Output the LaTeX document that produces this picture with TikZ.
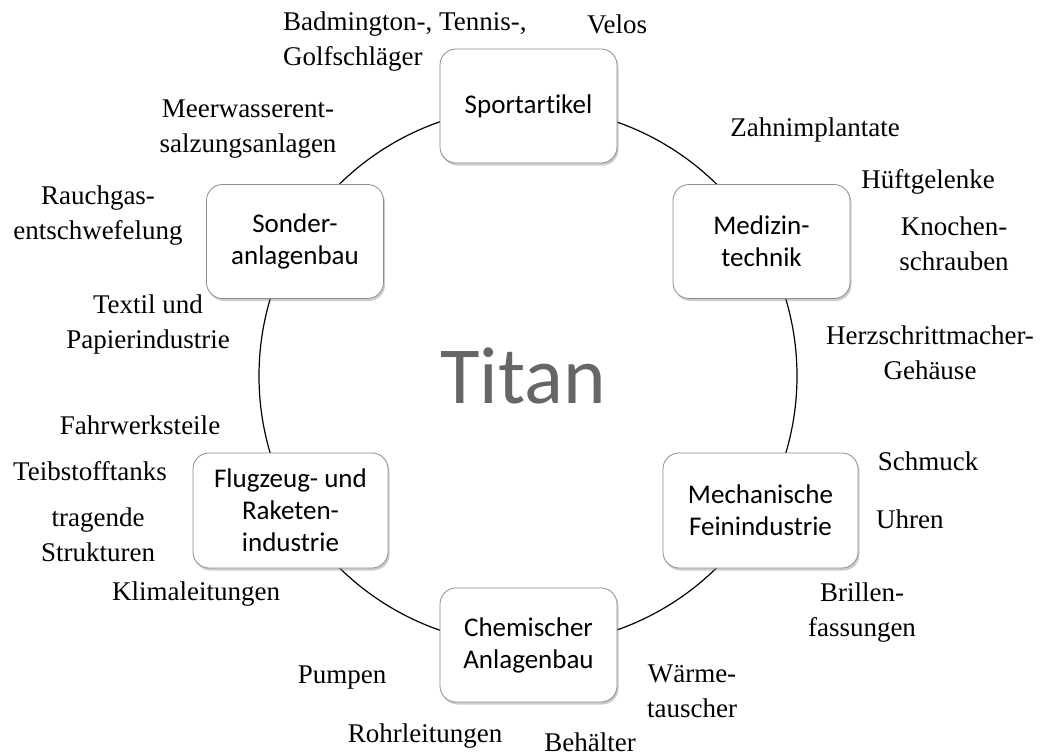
\documentclass[tikz,border=0pt]{standalone}
\usepackage{fontspec}
\setmainfont{Liberation Serif}
\newfontfamily\calfont[Ligatures=NoCommon]{Carlito}
\usetikzlibrary{shadows}
\definecolor{boxline}{RGB}{140,140,140}
\definecolor{titangray}{RGB}{102,102,102}
\begin{document}
\begin{tikzpicture}[x=1pt,y=-1pt,
  box/.style={draw=boxline, line width=0.8pt, fill=white, rounded corners=16pt,
    minimum width=177pt, minimum height=114pt, inner sep=0pt, align=center,
    font=\calfont\fontsize{27}{32}\selectfont,
    drop shadow={shadow xshift=1.5pt, shadow yshift=-2.5pt, fill=black!50, opacity=.4}},
  widebox/.style={box, minimum width=195pt, minimum height=115pt},
  lbl/.style={anchor=base, align=center, inner sep=0pt, font=\fontsize{27}{34.5}\selectfont},
  ring/.style={draw=black, line width=1.2pt}]
\useasboundingbox (0,0) rectangle (1042,755);
\coordinate (c) at (528,376);
\draw[ring] (c) circle [radius=269];
\node[box] (sport) at (528.5,106) {Sportartikel};
\node[box] (sonder) at (295,241.5) {Sonder-\\anlagenbau};
\node[box] (medizin) at (761.5,241.5) {Medizin-\\technik};
\node[widebox] (mech) at (760.5,510.5) {Mechanische\\Feinindustrie};
\node[widebox] (flug) at (290.5,510.5) {Flugzeug- und\\Raketen-\\industrie};
\node[box] (chem) at (528.5,645) {Chemischer\\Anlagenbau};
\node[anchor=base, inner sep=0pt, text=titangray, font=\calfont\fontsize{81}{90}\selectfont] (titan) at (523,403) {Titan};
% labels (anchor base = baseline of the last line)
\node[lbl, anchor=base west, align=left] (badm) at (283,65) {Badmington-, Tennis-,\\Golfschläger};
\node[lbl] (velos) at (617,33) {Velos};
\node[lbl] (meer) at (248,152) {Meerwasserent-\\salzungsanlagen};
\node[lbl] (rauch) at (98,239) {Rauchgas-\\entschwefelung};
\node[lbl] (textil) at (148,348) {Textil und\\Papierindustrie};
\node[lbl] (zahn) at (815,136) {Zahnimplantate};
\node[lbl] (hueft) at (928,188) {Hüftgelenke};
\node[lbl] (knochen) at (954,270) {Knochen-\\schrauben};
\node[lbl] (herz) at (930,379) {Herzschrittmacher-\\Gehäuse};
\node[lbl] (fahr) at (140,434) {Fahrwerksteile};
\node[lbl] (teib) at (90,480) {Teibstofftanks};
\node[lbl] (trag) at (98,561) {tragende\\Strukturen};
\node[lbl] (klima) at (196,600) {Klimaleitungen};
\node[lbl] (schmuck) at (928,470) {Schmuck};
\node[lbl, anchor=base west] (uhren) at (876,528) {Uhren};
\node[lbl] (brillen) at (862,636) {Brillen-\\fassungen};
\node[lbl] (pumpen) at (342,683) {Pumpen};
\node[lbl] (waerme) at (692,717) {Wärme-\\tauscher};
\node[lbl] (rohr) at (425,742) {Rohrleitungen};
\node[lbl] (behaelter) at (590,751) {Behälter};
\end{tikzpicture}
\end{document}
